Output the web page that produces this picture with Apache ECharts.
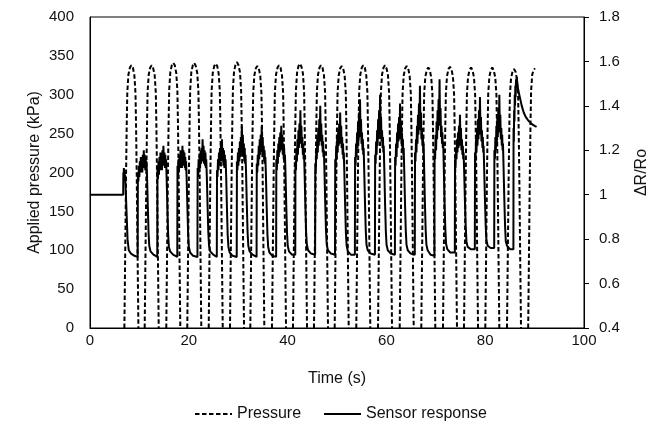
<!DOCTYPE html>
<html><head><meta charset="utf-8">
<script src="https://cdn.jsdelivr.net/npm/echarts@6/dist/echarts.min.js"></script>
<style>html,body{margin:0;padding:0;background:#fff}#c{width:668px;height:444px}</style>
</head><body><div id="c"></div>
<script>
// ---- Axis ticks ----
const xTicks = [0, 20, 40, 60, 80, 100];
const pressureTicks = [0, 50, 100, 150, 200, 250, 300, 350, 400];
const responseTicks = [0.4, 0.6, 0.8, 1, 1.2, 1.4, 1.6, 1.8];

// ---- Pressure (kPa): pulses (each pulse is its own segment) ----
const pressurePeakTimes = [8.38, 12.49, 16.86, 21.11, 25.45, 29.76, 33.87, 38.26, 42.51, 46.76, 50.95, 55.32, 59.72, 64.11, 68.48, 72.87, 77.13, 81.44, 85.83];
const pressureOffsets = [-1.42, -1.25, -1.08, -0.95, -0.83, -0.6, -0.3, 0, 0.3, 0.6, 0.83, 0.95, 1.08, 1.25, 1.42];
const pressurePulses = [
  [0, 98, 198, 260, 303, 326, 335, 338, 335, 325, 302, 258, 196, 96, 0],
  [0, 99, 199, 261, 304, 326, 335, 338, 334, 325, 303, 259, 197, 97, 0],
  [0, 100, 201, 263, 306, 329, 338, 341, 338, 328, 305, 261, 199, 98, 0],
  [0, 100, 200, 263, 306, 329, 338, 341, 337, 328, 305, 261, 198, 98, 0],
  [0, 99, 200, 262, 305, 328, 337, 340, 337, 327, 304, 260, 198, 97, 0],
  [0, 101, 202, 264, 307, 330, 339, 342, 338, 329, 306, 262, 199, 99, 0],
  [0, 98, 198, 260, 303, 325, 334, 337, 334, 324, 302, 258, 196, 96, 0],
  [0, 99, 199, 261, 304, 326, 335, 338, 335, 325, 303, 259, 197, 97, 0],
  [0, 99, 200, 262, 305, 328, 337, 340, 336, 327, 304, 260, 198, 97, 0],
  [0, 98, 199, 261, 304, 326, 335, 338, 335, 325, 303, 259, 197, 96, 0],
  [0, 98, 198, 260, 303, 325, 334, 337, 334, 324, 302, 258, 196, 96, 0],
  [0, 99, 199, 261, 304, 326, 335, 338, 335, 325, 303, 259, 197, 97, 0],
  [0, 98, 198, 261, 304, 326, 335, 338, 334, 325, 302, 258, 196, 96, 0],
  [0, 98, 198, 260, 303, 325, 334, 337, 334, 324, 302, 258, 196, 96, 0],
  [0, 97, 197, 259, 302, 323, 332, 335, 332, 322, 301, 257, 195, 95, 0],
  [0, 97, 197, 259, 302, 324, 333, 336, 333, 323, 301, 257, 195, 95, 0],
  [0, 97, 196, 258, 301, 323, 332, 335, 332, 322, 300, 256, 194, 94, 0],
  [0, 97, 196, 258, 301, 323, 332, 335, 331, 322, 300, 256, 194, 94, 0],
  [0, 96, 195, 257, 300, 321, 330, 333, 330, 320, 299, 255, 193, 93, 0]
];
const pressureEndT = [88.7, 88.87, 89.04, 89.17, 89.29, 89.52, 89.8, 90.1];
const pressureEndV = [0, 100, 200, 262, 305, 326, 332, 334];

// ---- Sensor response (ΔR/Ro) ----
const sensorStartT = [0, 6.72, 6.75, 6.8, 6.86, 6.92, 6.98, 7.04, 7.1, 7.2, 7.4, 7.6, 7.85, 8.3, 9.0];
const sensorStartV = [1.0, 1.0, 1.1, 1.06, 1.12, 1.07, 1.11, 1.06, 1.09, 1.04, 0.92, 0.8, 0.75, 0.735, 0.725];
const sensorRiseTimes = [9.65, 13.62, 17.67, 21.75, 25.67, 29.70, 33.72, 37.68, 41.55, 45.57, 49.60, 53.62, 57.68, 61.72, 65.75, 69.72, 73.85, 77.90, 81.82];
const sensorOffsets = [0, 0.04, 0.14, 0.24, 0.34, 0.44, 0.54, 0.64, 0.74, 0.84, 0.94, 1.04, 1.14, 1.24, 1.34, 1.44, 1.54, 1.62, 1.7, 1.78, 1.9, 2.05, 2.2, 2.35, 2.6, 3.2];
const sensorCycles = [
  [0.72, 1.10, 1.06, 1.13, 1.08, 1.15, 1.10, 1.17, 1.11, 1.16, 1.10, 1.18, 1.12, 1.20, 1.13, 1.18, 1.11, 1.17, 1.12, 1.15, 1.08, 0.95, 0.83, 0.77, 0.745, 0.73],
  [0.72, 1.12, 1.07, 1.15, 1.09, 1.17, 1.11, 1.19, 1.12, 1.18, 1.11, 1.20, 1.13, 1.22, 1.14, 1.19, 1.12, 1.18, 1.12, 1.16, 1.07, 0.94, 0.82, 0.765, 0.745, 0.73],
  [0.72, 1.13, 1.08, 1.16, 1.10, 1.18, 1.12, 1.20, 1.13, 1.19, 1.12, 1.22, 1.14, 1.20, 1.13, 1.19, 1.12, 1.17, 1.11, 1.15, 1.07, 0.94, 0.82, 0.765, 0.74, 0.725],
  [0.72, 1.12, 1.08, 1.16, 1.10, 1.18, 1.12, 1.20, 1.14, 1.21, 1.15, 1.25, 1.16, 1.22, 1.14, 1.20, 1.13, 1.19, 1.12, 1.16, 1.08, 0.95, 0.83, 0.77, 0.745, 0.73],
  [0.72, 1.11, 1.08, 1.16, 1.11, 1.19, 1.13, 1.21, 1.15, 1.23, 1.16, 1.25, 1.15, 1.21, 1.13, 1.20, 1.12, 1.18, 1.12, 1.16, 1.08, 0.94, 0.82, 0.765, 0.74, 0.725],
  [0.72, 1.15, 1.11, 1.19, 1.13, 1.21, 1.15, 1.24, 1.17, 1.26, 1.19, 1.31, 1.20, 1.27, 1.17, 1.23, 1.15, 1.21, 1.14, 1.18, 1.09, 0.95, 0.83, 0.77, 0.745, 0.73],
  [0.72, 1.14, 1.10, 1.18, 1.13, 1.22, 1.16, 1.25, 1.18, 1.27, 1.19, 1.31, 1.21, 1.26, 1.17, 1.22, 1.15, 1.20, 1.14, 1.17, 1.08, 0.94, 0.82, 0.765, 0.74, 0.725],
  [0.72, 1.16, 1.11, 1.20, 1.14, 1.23, 1.17, 1.26, 1.19, 1.28, 1.20, 1.31, 1.22, 1.27, 1.18, 1.23, 1.16, 1.21, 1.15, 1.18, 1.09, 0.95, 0.83, 0.77, 0.745, 0.73],
  [0.73, 1.15, 1.11, 1.21, 1.15, 1.25, 1.18, 1.29, 1.21, 1.32, 1.23, 1.38, 1.25, 1.31, 1.21, 1.26, 1.18, 1.23, 1.16, 1.19, 1.09, 0.95, 0.83, 0.775, 0.75, 0.735],
  [0.73, 1.14, 1.11, 1.21, 1.16, 1.26, 1.19, 1.30, 1.22, 1.34, 1.24, 1.40, 1.26, 1.32, 1.22, 1.27, 1.19, 1.24, 1.17, 1.20, 1.10, 0.96, 0.84, 0.775, 0.75, 0.735],
  [0.73, 1.16, 1.12, 1.22, 1.16, 1.26, 1.19, 1.29, 1.22, 1.32, 1.23, 1.37, 1.25, 1.31, 1.21, 1.26, 1.18, 1.23, 1.16, 1.19, 1.09, 0.95, 0.83, 0.77, 0.745, 0.73],
  [0.73, 1.17, 1.13, 1.23, 1.17, 1.28, 1.21, 1.33, 1.24, 1.37, 1.26, 1.43, 1.28, 1.34, 1.23, 1.28, 1.20, 1.25, 1.18, 1.21, 1.10, 0.96, 0.84, 0.775, 0.75, 0.735],
  [0.73, 1.18, 1.14, 1.24, 1.18, 1.29, 1.22, 1.34, 1.25, 1.38, 1.27, 1.45, 1.29, 1.35, 1.24, 1.29, 1.21, 1.26, 1.19, 1.22, 1.11, 0.96, 0.84, 0.775, 0.75, 0.735],
  [0.73, 1.17, 1.13, 1.23, 1.17, 1.28, 1.21, 1.32, 1.24, 1.35, 1.25, 1.41, 1.27, 1.33, 1.23, 1.28, 1.20, 1.25, 1.18, 1.21, 1.10, 0.96, 0.84, 0.775, 0.75, 0.735],
  [0.73, 1.19, 1.15, 1.25, 1.19, 1.31, 1.23, 1.36, 1.27, 1.41, 1.29, 1.49, 1.31, 1.37, 1.25, 1.30, 1.22, 1.27, 1.20, 1.23, 1.11, 0.96, 0.84, 0.775, 0.75, 0.73],
  [0.725, 1.20, 1.16, 1.27, 1.20, 1.33, 1.25, 1.38, 1.29, 1.43, 1.31, 1.52, 1.33, 1.39, 1.26, 1.31, 1.23, 1.28, 1.21, 1.24, 1.12, 0.97, 0.85, 0.78, 0.755, 0.74],
  [0.74, 1.16, 1.12, 1.21, 1.16, 1.25, 1.19, 1.28, 1.21, 1.31, 1.22, 1.36, 1.24, 1.30, 1.20, 1.25, 1.18, 1.22, 1.16, 1.19, 1.10, 0.97, 0.86, 0.79, 0.765, 0.755],
  [0.755, 1.19, 1.15, 1.25, 1.19, 1.30, 1.22, 1.34, 1.25, 1.38, 1.27, 1.44, 1.29, 1.35, 1.24, 1.29, 1.21, 1.26, 1.19, 1.22, 1.11, 0.98, 0.86, 0.795, 0.77, 0.76],
  [0.76, 1.20, 1.16, 1.26, 1.20, 1.31, 1.23, 1.35, 1.26, 1.39, 1.28, 1.45, 1.30, 1.36, 1.25, 1.30, 1.22, 1.27, 1.20, 1.23, 1.12, 0.98, 0.86, 0.79, 0.77, 0.755]
];
const sensorTailT = [85.71, 85.74, 85.8, 85.86, 85.92, 85.98, 86.04, 86.1, 86.16, 86.24, 86.32, 86.4, 86.5, 86.7, 87.0, 87.4, 87.8, 88.2, 88.7, 89.3, 90.0, 90.4];
const sensorTailV = [0.755, 1.30, 1.24, 1.38, 1.33, 1.45, 1.40, 1.49, 1.44, 1.52, 1.48, 1.53, 1.50, 1.47, 1.44, 1.40, 1.37, 1.35, 1.335, 1.32, 1.31, 1.305];

// ---- build series data ----
const pressureData = [];
pressurePeakTimes.forEach((pt, k) => {
  pressureOffsets.forEach((o, j) => pressureData.push([+(pt + o).toFixed(3), pressurePulses[k][j]]));
  pressureData.push([+(pt + pressureOffsets[pressureOffsets.length - 1] + 0.01).toFixed(3), null]);
});
pressureEndT.forEach((t, i) => pressureData.push([t, pressureEndV[i]]));

const sensorData = [];
sensorStartT.forEach((t, i) => sensorData.push([t, sensorStartV[i]]));
sensorRiseTimes.forEach((rt, k) => {
  sensorOffsets.forEach((o, j) => sensorData.push([+(rt + o).toFixed(3), sensorCycles[k][j]]));
});
sensorTailT.forEach((t, i) => sensorData.push([t, sensorTailV[i]]));

const FONT = 'Liberation Sans, Arial, sans-serif';
const TXT = '#111';
const chart = echarts.init(document.getElementById('c'), null, { renderer: 'canvas' });
chart.setOption({
  animation: false,
  backgroundColor: '#fff',
  textStyle: { fontFamily: FONT, color: TXT },
  grid: { left: 90, right: 84, top: 17, bottom: 116, containLabel: false, outerBoundsMode: 'none',
          show: true, borderColor: '#000', borderWidth: 1, backgroundColor: 'transparent' },
  legend: {
    left: 194, top: 406, padding: 0, itemWidth: 37, itemHeight: 14, itemGap: 22,
    itemStyle: { opacity: 0 },
    textStyle: { fontFamily: FONT, fontSize: 16, color: TXT },
    data: ['Pressure', 'Sensor response']
  },
  xAxis: {
    type: 'value', min: xTicks[0], max: xTicks[xTicks.length - 1], interval: 20,
    name: 'Time (s)', nameLocation: 'middle', nameGap: 43, nameMoveOverlap: false,
    nameTextStyle: { fontFamily: FONT, fontSize: 16, color: TXT },
    axisLine: { show: true, lineStyle: { color: '#000', width: 1 } },
    axisTick: { show: false },
    splitLine: { show: false },
    axisLabel: { fontFamily: FONT, fontSize: 15, color: TXT, margin: 5 }
  },
  yAxis: [
    {
      type: 'value', position: 'left', min: pressureTicks[0], max: pressureTicks[pressureTicks.length - 1], interval: 50,
      name: 'Applied pressure (kPa)', nameLocation: 'middle', nameGap: 47, nameRotate: 90, nameMoveOverlap: false,
      nameTextStyle: { fontFamily: FONT, fontSize: 16, color: TXT },
      axisLine: { show: true, lineStyle: { color: '#000', width: 1 } },
      axisTick: { show: false },
      splitLine: { show: false },
      axisLabel: { fontFamily: FONT, fontSize: 15, color: TXT, margin: 16 }
    },
    {
      type: 'value', position: 'right', min: responseTicks[0], max: responseTicks[responseTicks.length - 1], interval: 0.2,
      name: 'ΔR/Ro', nameLocation: 'middle', nameGap: 50, nameRotate: 90, nameMoveOverlap: false,
      nameTextStyle: { fontFamily: FONT, fontSize: 16, color: TXT },
      axisLine: { show: true, lineStyle: { color: '#000', width: 1 } },
      axisTick: { show: true, inside: false, length: 5, lineStyle: { color: '#000' } },
      splitLine: { show: false },
      axisLabel: { fontFamily: FONT, fontSize: 15, color: TXT, margin: 15,
                   formatter: v => String(+v.toFixed(1)) }
    }
  ],
  series: [
    {
      name: 'Pressure', type: 'line', yAxisIndex: 0, data: pressureData,
      symbol: 'none', showSymbol: false, clip: true, connectNulls: false,
      lineStyle: { color: '#000', width: 2, type: [4.5, 2.5] },
      itemStyle: { color: '#000' }
    },
    {
      name: 'Sensor response', type: 'line', yAxisIndex: 1, data: sensorData,
      symbol: 'none', showSymbol: false, clip: true,
      lineStyle: { color: '#000', width: 2 },
      itemStyle: { color: '#000' }
    }
  ]
});
</script></body></html>
